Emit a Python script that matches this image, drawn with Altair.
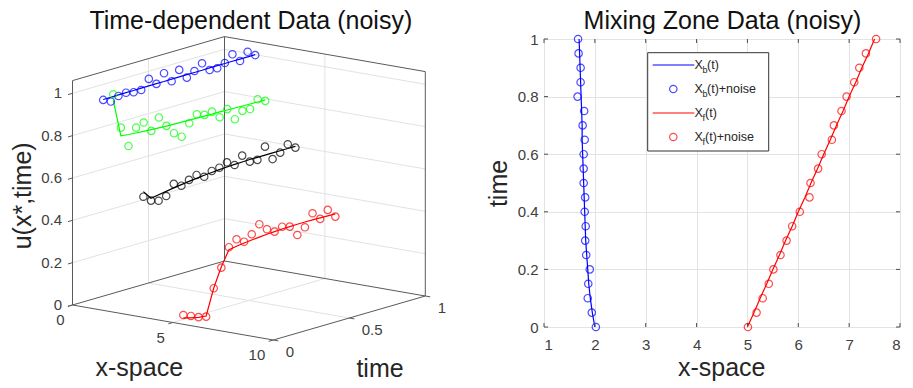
import altair as alt
import pandas as pd

# ---------------- data ----------------
time_vals = [0.0, 0.05, 0.1, 0.15, 0.2, 0.25, 0.3, 0.35, 0.4, 0.45, 0.5,
             0.55, 0.6, 0.65, 0.7, 0.75, 0.8, 0.85, 0.9, 0.95, 1.0]

# left panel: u(x*, time) at four fixed locations x*
series_ids = ["s1", "s2", "s3", "s4"]
series_xstar = [1.53, 2.03, 3.53, 5.52]

u_fit_s1 = [0.996, 0.996, 0.997, 0.997, 0.997, 0.998, 0.998, 0.998, 0.998, 0.999, 0.999,
            0.999, 0.999, 0.999, 1.0, 1.0, 1.0, 1.0, 1.0, 1.0, 1.0]
u_noisy_s1 = [0.994, 0.976, 0.992, 0.997, 0.989, 0.989, 1.031, 0.997, 1.037, 0.989, 1.032,
              0.985, 1.006, 1.032, 0.990, 0.988, 1.002, 1.033, 0.991, 1.024, 0.998]
u_fit_s2 = [1.000, 0.822, 0.818, 0.815, 0.812, 0.810, 0.808, 0.806, 0.805, 0.804, 0.803,
            0.802, 0.801, 0.800, 0.800, 0.799, 0.798, 0.797, 0.796, 0.795, 0.795]
u_noisy_s2 = [1.029, 0.861, 0.764, 0.840, 0.854, 0.804, 0.857, 0.807, 0.762, 0.735, 0.788,
              0.820, 0.807, 0.812, 0.775, 0.803, 0.745, 0.774, 0.772, 0.808, 0.790]
u_fit_s3 = [0.594, 0.552, 0.558, 0.564, 0.570, 0.575, 0.580, 0.584, 0.588, 0.591, 0.594,
            0.596, 0.598, 0.599, 0.600, 0.600, 0.600, 0.600, 0.600, 0.600, 0.600]
u_noisy_s3 = [0.570, 0.541, 0.530, 0.542, 0.589, 0.570, 0.587, 0.600, 0.581, 0.598, 0.603,
              0.618, 0.595, 0.629, 0.590, 0.588, 0.640, 0.571, 0.591, 0.620, 0.594]
u_fit_s4 = [0.030, 0.020, 0.012, 0.008, 0.130, 0.220, 0.290, 0.296, 0.301, 0.305, 0.308,
            0.311, 0.313, 0.315, 0.316, 0.317, 0.317, 0.317, 0.316, 0.315, 0.314]
u_noisy_s4 = [0.044, 0.029, 0.013, 0.005, 0.129, 0.216, 0.302, 0.329, 0.307, 0.332, 0.369,
              0.335, 0.313, 0.326, 0.316, 0.266, 0.292, 0.348, 0.311, 0.343, 0.301]

# right panel: mixing zone boundaries
xb_fit = [2.00, 1.95, 1.91, 1.88, 1.86, 1.84, 1.82, 1.81, 1.80, 1.79, 1.78,
          1.77, 1.76, 1.75, 1.75, 1.74, 1.73, 1.72, 1.71, 1.70, 1.69]
xb_noisy = [2.02, 1.94, 1.86, 1.87, 1.90, 1.83, 1.81, 1.82, 1.80, 1.81, 1.78,
            1.78, 1.78, 1.80, 1.76, 1.79, 1.66, 1.72, 1.72, 1.68, 1.67]
xf_fit = [5.00, 5.13, 5.25, 5.38, 5.50, 5.63, 5.75, 5.88, 6.00, 6.13, 6.25,
          6.38, 6.50, 6.63, 6.75, 6.88, 7.00, 7.13, 7.25, 7.38, 7.50]
xf_noisy = [5.01, 5.18, 5.30, 5.42, 5.51, 5.65, 5.77, 5.88, 6.03, 6.22, 6.24,
            6.39, 6.46, 6.66, 6.70, 6.85, 6.95, 7.10, 7.20, 7.33, 7.53]

# axes
x_lim_3d = [0, 10]
t_lim_3d = [0, 1]
u_lim_3d = [0, 1.06]
x_ticks_3d = [0, 5, 10]
t_ticks_3d = [0, 0.5, 1]
u_ticks_3d = [0, 0.2, 0.4, 0.6, 0.8, 1]
x_ticks_2d = [1, 2, 3, 4, 5, 6, 7, 8]
t_ticks_2d = [0, 0.2, 0.4, 0.6, 0.8, 1]

title_left = "Time-dependent Data (noisy)"
title_right = "Mixing Zone Data (noisy)"
legend_sub = ["b", "b", "f", "f"]
legend_rest = ["(t)", "(t)+noise", "(t)", "(t)+noise"]

# ---------------- tables ----------------
fits = [u_fit_s1, u_fit_s2, u_fit_s3, u_fit_s4]
noisy = [u_noisy_s1, u_noisy_s2, u_noisy_s3, u_noisy_s4]
fit3d = pd.DataFrame([dict(series=s, x=xs, t=tv, u=uv)
                      for s, xs, arr in zip(series_ids, series_xstar, fits)
                      for tv, uv in zip(time_vals, arr)])
pts3d = pd.DataFrame([dict(series=s, x=xs, t=tv, u=uv)
                      for s, xs, arr in zip(series_ids, series_xstar, noisy)
                      for tv, uv in zip(time_vals, arr)])

fit2d = pd.DataFrame([dict(series=s, t=tv, x=xv)
                      for s, arr in (("Xb", xb_fit), ("Xf", xf_fit))
                      for tv, xv in zip(time_vals, arr)])
pts2d = pd.DataFrame([dict(series=s, t=tv, x=xv)
                      for s, arr in (("Xb", xb_noisy), ("Xf", xf_noisy))
                      for tv, xv in zip(time_vals, arr)])

segs = []
def seg(kind, a, b):
    segs.append(dict(kind=kind, x1=a[0], t1=a[1], u1=a[2], x2=b[0], t2=b[1], u2=b[2]))

X0, X1 = x_lim_3d
T0, T1 = t_lim_3d
U0, U1 = u_lim_3d
for xv in x_ticks_3d:
    if X0 < xv < X1:
        seg("grid", (xv, T0, U0), (xv, T1, U0))
        seg("grid", (xv, T1, U0), (xv, T1, U1))
for tv in t_ticks_3d:
    if T0 < tv < T1:
        seg("grid", (X0, tv, U0), (X1, tv, U0))
        seg("grid", (X0, tv, U0), (X0, tv, U1))
for uv in u_ticks_3d:
    if U0 < uv < U1:
        seg("grid", (X0, T0, uv), (X0, T1, uv))
        seg("grid", (X0, T1, uv), (X1, T1, uv))
# box edges (floor + two back walls)
seg("box", (X0, T0, U0), (X1, T0, U0))
seg("box", (X1, T0, U0), (X1, T1, U0))
seg("box", (X1, T1, U0), (X0, T1, U0))
seg("box", (X0, T1, U0), (X0, T0, U0))
seg("box", (X0, T0, U0), (X0, T0, U1))
seg("box", (X0, T1, U0), (X0, T1, U1))
seg("box", (X1, T1, U0), (X1, T1, U1))
seg("box", (X0, T0, U1), (X0, T1, U1))
seg("box", (X0, T1, U1), (X1, T1, U1))
# outward tick marks
for uv in u_ticks_3d:
    seg("tick", (X0, T0, uv), (X0, T0 - 0.03, uv))
for xv in x_ticks_3d:
    seg("tick", (xv, T0, U0), (xv, T0 - 0.03, U0))
for tv in t_ticks_3d:
    seg("tick", (X1, tv, U0), (X1 + 0.25, tv, U0))
seg_df = pd.DataFrame(segs)

u_lab = pd.DataFrame({"x": X0, "t": T0, "u": u_ticks_3d})
x_lab = pd.DataFrame({"x": x_ticks_3d, "t": T0, "u": U0})
t_lab = pd.DataFrame({"x": X1, "t": t_ticks_3d, "u": U0})

# ---------------- projection (3D -> screen px) ----------------
P0X, P0Y = 72.5, 305.0
EXX, EXY = 20.08, 3.5
ETX, ETY = 152.0, -44.0
EUY = -211.7

def pxe(xf, tf):
    return f"{P0X} + {EXX}*datum.{xf} + {ETX}*datum.{tf}"

def pye(xf, tf, uf):
    return f"{P0Y} + {EXY}*datum.{xf} + {ETY}*datum.{tf} + {EUY}*datum.{uf}"

# plot area of the right panel inside the 913x388 page
LEFT, TOP, PW, PH = 544, 39, 356, 288
SX = alt.Scale(domain=[0, 913], range=[-LEFT, 913 - LEFT], nice=False, zero=False)
SY = alt.Scale(domain=[0, 388], range=[-TOP, 388 - TOP], nice=False, zero=False)

FONT = "Liberation Sans"
DARK = "#262626"
TICKC = "#404040"
colors = alt.Scale(domain=["s1", "s2", "s3", "s4", "Xb", "Xf"],
                   range=["#0000ff", "#00ff00", "#000000", "#ff0000", "#0000ff", "#ff0000"])
PSIZE = 55
LW = 1.2

def seg_layer(kind, color):
    return (alt.Chart(seg_df)
            .transform_filter(f"datum.kind == '{kind}'")
            .transform_calculate(px1=pxe("x1", "t1"), py1=pye("x1", "t1", "u1"),
                                 px2=pxe("x2", "t2"), py2=pye("x2", "t2", "u2"))
            .mark_rule(color=color, strokeWidth=1)
            .encode(x=alt.X("px1:Q", scale=SX, axis=None),
                    y=alt.Y("py1:Q", scale=SY, axis=None),
                    x2="px2:Q", y2="py2:Q"))

def proj(df):
    return alt.Chart(df).transform_calculate(px=pxe("x", "t"), py=pye("x", "t", "u"))

grid3d = seg_layer("grid", "#e2e2e2")
box3d = seg_layer("box", "#5a5a5a")
tick3d = seg_layer("tick", "#5a5a5a")

lab_u = proj(u_lab).mark_text(align="right", baseline="middle", dx=-10.5, fontSize=15,
                               font=FONT, color=TICKC).encode(
    x=alt.X("px:Q", scale=SX, axis=None), y=alt.Y("py:Q", scale=SY, axis=None),
    text=alt.Text("u:Q", format="~g"))
lab_x = proj(x_lab).mark_text(align="right", baseline="middle", dx=-8, dy=15, fontSize=15,
                               font=FONT, color=TICKC).encode(
    x=alt.X("px:Q", scale=SX, axis=None), y=alt.Y("py:Q", scale=SY, axis=None),
    text=alt.Text("x:Q", format="~g"))
lab_t = proj(t_lab).mark_text(align="left", baseline="middle", dx=12.4, dy=12, fontSize=15,
                               font=FONT, color=TICKC).encode(
    x=alt.X("px:Q", scale=SX, axis=None), y=alt.Y("py:Q", scale=SY, axis=None),
    text=alt.Text("t:Q", format="~g"))

line3d = proj(fit3d).mark_line(strokeWidth=LW).encode(
    x=alt.X("px:Q", scale=SX, axis=None), y=alt.Y("py:Q", scale=SY, axis=None),
    color=alt.Color("series:N", scale=colors, legend=None),
    detail="series:N", order="t:Q")
pt3d = proj(pts3d).mark_point(shape="circle", filled=False, size=PSIZE, strokeWidth=LW).encode(
    x=alt.X("px:Q", scale=SX, axis=None), y=alt.Y("py:Q", scale=SY, axis=None),
    color=alt.Color("series:N", scale=colors, legend=None))

one = pd.DataFrame({"k": [0]})

def label(text, x, y, size=25, angle=0, align="center", baseline="alphabetic", color=DARK):
    kw = dict(align=align, baseline=baseline, fontSize=size, font=FONT, color=color, text=text)
    if angle:
        kw["angle"] = angle
    return alt.Chart(one).mark_text(**kw).encode(x=alt.value(x), y=alt.value(y))

# text positions in right-panel plot coordinates
titles = [
    label(title_left, 250.8 - LEFT, 28.5 - TOP, color="#111111"),
    label(title_right, 722.5 - LEFT, 28.5 - TOP, color="#111111"),
    label("u(x*,time)", 31.4 - LEFT, 195.8 - TOP, angle=270),
    label("x-space", 139.3 - LEFT, 375.5 - TOP),
    label("time", 380 - LEFT, 376.7 - TOP),
    label("x-space", 721.7 - LEFT, 376.3 - TOP),
    label("time", 506.7 - LEFT, 183.5 - TOP, angle=270),
]

# ---------------- right panel ----------------
RX = alt.Scale(domain=[1, 8], nice=False, zero=False)
RY = alt.Scale(domain=[0, 1], nice=False, zero=False)

line2d = alt.Chart(fit2d).mark_line(strokeWidth=LW).encode(
    x=alt.X("x:Q", scale=RX, title=None,
            axis=alt.Axis(values=x_ticks_2d, format="~g", grid=True, gridColor="#e3e3e3",
                          ticks=False, tickSize=0, domain=False, labelPadding=10,
                          labelFontSize=15, labelFont=FONT, labelColor=TICKC)),
    y=alt.Y("t:Q", scale=RY, title=None,
            axis=alt.Axis(values=t_ticks_2d, format="~g", grid=True, gridColor="#e3e3e3",
                          ticks=False, tickSize=0, domain=False, labelPadding=6,
                          labelFontSize=15, labelFont=FONT, labelColor=TICKC)),
    color=alt.Color("series:N", scale=colors, legend=None),
    detail="series:N", order="t:Q")
pt2d = alt.Chart(pts2d).mark_point(shape="circle", filled=False, size=PSIZE, strokeWidth=LW).encode(
    x=alt.X("x:Q", scale=RX, axis=None), y=alt.Y("t:Q", scale=RY, axis=None),
    color=alt.Color("series:N", scale=colors, legend=None))

# inward ticks on the frame
xt = pd.DataFrame({"x": x_ticks_2d})
yt = pd.DataFrame({"t": t_ticks_2d})
tick2d = [
    alt.Chart(xt).mark_rule(color="#4d4d4d").encode(
        x=alt.X("x:Q", scale=RX, axis=None), y=alt.value(PH), y2=alt.value(PH - 4)),
    alt.Chart(xt).mark_rule(color="#4d4d4d").encode(
        x=alt.X("x:Q", scale=RX, axis=None), y=alt.value(0), y2=alt.value(4)),
    alt.Chart(yt).mark_rule(color="#4d4d4d").encode(
        y=alt.Y("t:Q", scale=RY, axis=None), x=alt.value(0), x2=alt.value(4)),
    alt.Chart(yt).mark_rule(color="#4d4d4d").encode(
        y=alt.Y("t:Q", scale=RY, axis=None), x=alt.value(PW), x2=alt.value(PW - 4)),
]

# hand-built legend (subscripts)
LB = dict(x=103.7, x2=224.7, y=13.7, y2=112.0)
legend_layers = [
    alt.Chart(one).mark_rect(fill="white", stroke="#333333", strokeWidth=1).encode(
        x=alt.value(LB["x"]), x2=alt.value(LB["x2"]), y=alt.value(LB["y"]), y2=alt.value(LB["y2"]))
]
row_y = [26, 50, 74, 98]
row_col = ["#0000ff", "#0000ff", "#ff0000", "#ff0000"]
for i in range(4):
    if i % 2 == 0:
        legend_layers.append(alt.Chart(one).mark_rule(color=row_col[i], strokeWidth=1).encode(
            x=alt.value(108.7), x2=alt.value(150.3), y=alt.value(row_y[i])))
    else:
        legend_layers.append(alt.Chart(one).mark_point(
            shape="circle", filled=False, size=PSIZE, strokeWidth=LW, color=row_col[i]).encode(
            x=alt.value(129.3), y=alt.value(row_y[i])))
    legend_layers.append(label("X", 150.5, row_y[i], size=12.5, align="left", baseline="middle"))
    legend_layers.append(label(legend_sub[i], 158.6, row_y[i] + 4.5, size=9, align="left",
                               baseline="middle"))
    rest_x = 163.0 if legend_sub[i] == "b" else 161.0
    legend_layers.append(label(legend_rest[i], rest_x, row_y[i], size=12.5, align="left",
                               baseline="middle"))

chart = alt.layer(
    grid3d, box3d, tick3d, lab_u, lab_x, lab_t, line3d, pt3d,
    line2d, pt2d, *tick2d, *legend_layers, *titles
).resolve_scale(x="independent", y="independent").properties(
    width=PW, height=PH,
    autosize=alt.AutoSizeParams(type="none"),
    padding={"left": LEFT, "top": TOP, "right": 913 - LEFT - PW, "bottom": 388 - TOP - PH},
).configure_view(stroke="#4d4d4d", strokeWidth=1).configure(font=FONT)

chart.save("out.html", embed_options={"renderer": "svg", "actions": False})
